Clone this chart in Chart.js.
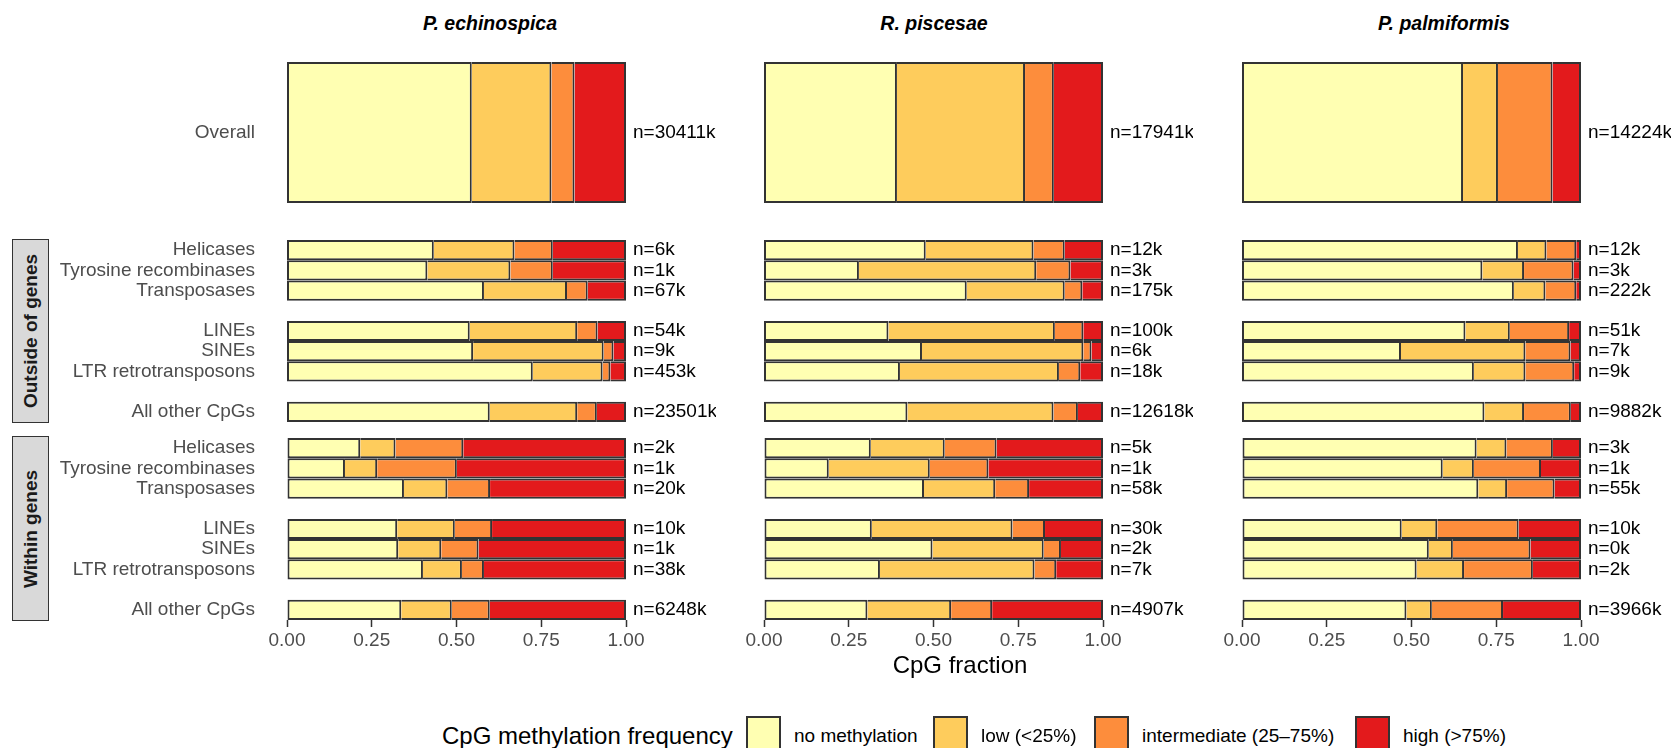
<!DOCTYPE html>
<html>
<head>
<meta charset="utf-8">
<script src="https://cdn.jsdelivr.net/npm/chart.js@4.4.1/dist/chart.umd.min.js"></script>
<style>
  html, body { margin: 0; padding: 0; background: #fff; }
  body { width: 1675px; height: 748px; position: relative; overflow: hidden;
         font-family: "Liberation Sans", Arial, Helvetica, sans-serif; }
  .abs { position: absolute; }
  .box { position: absolute; }
  .box canvas { display: block; }
  .title { font-weight: bold; font-style: italic; font-size: 19.5px; color: #000;
           transform: translate(-50%, -50%); white-space: nowrap; line-height: 1.15; }
  .strip { background: #d9d9d9; border: 1px solid #333; box-sizing: border-box; }
  .strip span { position: absolute; left: 50%; top: 50%; white-space: nowrap;
                transform: translate(-50%, -50%) rotate(-90deg);
                font-weight: bold; font-size: 19px; color: #1a1a1a; }
  .axtitle { font-size: 24px; color: #000; transform: translate(-50%, -50%);
             white-space: nowrap; line-height: 1.15; }
  .legtitle { font-size: 24px; color: #000; transform: translateY(-50%); white-space: nowrap; line-height: 1.15; }
  .legtext { font-size: 19px; color: #000; transform: translateY(-50%); white-space: nowrap; line-height: 1.15; }
  .key { border: 2px solid #333; box-sizing: border-box; }
</style>
</head>
<body>
<script>
// ---- data -------------------------------------------------------------
const species = ['P. echinospica', 'R. piscesae', 'P. palmiformis'];
const regions = ['Helicases', 'Tyrosine recombinases', 'Transposases',
                 'LINEs', 'SINEs', 'LTR retrotransposons', 'All other CpGs'];
const contexts = ['Outside of genes', 'Within genes'];
const classes = ['no methylation', 'low (<25%)', 'intermediate (25\u201375%)', 'high (>75%)'];
const classColors = ['#ffffb2', '#fecc5c', '#fd8d3c', '#e31a1c'];
const tickValues = [0, 0.25, 0.5, 0.75, 1];
const axisTitle = 'CpG fraction';
const legendTitle = 'CpG methylation frequency';

// Row order in every series: Overall, 7 regions outside genes, 7 regions within genes
const echNone  = [0.545, 0.433, 0.414, 0.581, 0.539, 0.549, 0.725, 0.598, 0.216, 0.171, 0.345, 0.325, 0.328, 0.401, 0.337];
const echLow   = [0.235, 0.238, 0.245, 0.245, 0.317, 0.385, 0.206, 0.258, 0.104, 0.095, 0.128, 0.170, 0.127, 0.115, 0.149];
const echInter = [0.068, 0.113, 0.125, 0.061, 0.060, 0.029, 0.023, 0.058, 0.200, 0.235, 0.126, 0.110, 0.110, 0.065, 0.112];
const echHigh  = [0.152, 0.216, 0.216, 0.113, 0.084, 0.037, 0.046, 0.086, 0.480, 0.499, 0.401, 0.395, 0.435, 0.419, 0.402];
const echN     = ['30411k', '6k', '1k', '67k', '54k', '9k', '453k', '23501k', '2k', '1k', '20k', '10k', '1k', '38k', '6248k'];

const rpiNone  = [0.392, 0.477, 0.280, 0.598, 0.367, 0.466, 0.401, 0.423, 0.315, 0.191, 0.472, 0.318, 0.497, 0.342, 0.305];
const rpiLow   = [0.378, 0.318, 0.523, 0.289, 0.491, 0.476, 0.469, 0.431, 0.218, 0.298, 0.210, 0.415, 0.328, 0.456, 0.247];
const rpiInter = [0.085, 0.092, 0.101, 0.052, 0.084, 0.024, 0.063, 0.072, 0.153, 0.173, 0.100, 0.096, 0.051, 0.064, 0.121];
const rpiHigh  = [0.145, 0.113, 0.096, 0.061, 0.058, 0.034, 0.067, 0.074, 0.314, 0.338, 0.218, 0.171, 0.124, 0.138, 0.327];
const rpiN     = ['17941k', '12k', '3k', '175k', '100k', '6k', '18k', '12618k', '5k', '1k', '58k', '30k', '2k', '7k', '4907k'];

const ppaNone  = [0.652, 0.814, 0.709, 0.802, 0.659, 0.469, 0.684, 0.715, 0.692, 0.592, 0.697, 0.471, 0.551, 0.515, 0.485];
const ppaLow   = [0.103, 0.084, 0.123, 0.093, 0.131, 0.367, 0.152, 0.117, 0.088, 0.092, 0.085, 0.105, 0.071, 0.140, 0.075];
const ppaInter = [0.161, 0.088, 0.146, 0.091, 0.175, 0.133, 0.144, 0.138, 0.137, 0.198, 0.140, 0.240, 0.229, 0.203, 0.210];
const ppaHigh  = [0.084, 0.014, 0.022, 0.014, 0.035, 0.031, 0.020, 0.030, 0.083, 0.118, 0.078, 0.184, 0.149, 0.142, 0.230];
const ppaN     = ['14224k', '12k', '3k', '222k', '51k', '7k', '9k', '9882k', '3k', '1k', '55k', '10k', '0k', '2k', '3966k'];

// regions are shown in three groups separated by an empty row
const groupStarts = [0, 3, 6];

// ---- layout -----------------------------------------------------------
const FONT = '"Liberation Sans", Arial, Helvetica, sans-serif';
Chart.defaults.font.family = FONT;
Chart.defaults.animation = false;

const panelLeft = [287, 764, 1242];
const panelWidth = 339;
const titleCenter = [490, 934, 1444];
const rightRoom = 90;           // space for the n= labels
const leftRoom = 40;
const facetBoxes = [
  { top: 62,  height: 141 },    // Overall
  { top: 240, height: 182 },    // Outside of genes
  { top: 438, height: 182 }     // Within genes
];
const xAxisHeight = 40;

const seriesBySpecies = [
  { classes: [echNone, echLow, echInter, echHigh], n: echN },
  { classes: [rpiNone, rpiLow, rpiInter, rpiHigh], n: rpiN },
  { classes: [ppaNone, ppaLow, ppaInter, ppaHigh], n: ppaN }
];

// n= labels written just right of each bar
const nLabelPlugin = {
  id: 'nLabels',
  afterDatasetsDraw(chart, args, opts) {
    const { ctx, chartArea, scales } = chart;
    ctx.save();
    ctx.font = '19px ' + FONT;
    ctx.fillStyle = '#000';
    ctx.textAlign = 'left';
    ctx.textBaseline = 'middle';
    opts.labels.forEach((t, i) => {
      if (t == null) return;
      ctx.fillText('n=' + t, chartArea.right + 7, scales.y.getPixelForValue(i));
    });
    ctx.restore();
  }
};

function rowsFor(facet) {
  // returns category labels and the index into the series arrays (-1 = spacer)
  if (facet === 0) return { labels: ['Overall'], map: [0] };
  const offset = facet === 1 ? 1 : 8;
  const labels = [], map = [];
  regions.forEach((name, k) => {
    if (k > 0 && groupStarts.includes(k)) { labels.push(''); map.push(-1); }
    labels.push(name); map.push(offset + k);
  });
  return { labels, map };
}

function makeChart(sp, facet) {
  const showY = sp === 0;
  const showX = facet === 2;
  const box = facetBoxes[facet];
  const padTop = 2, padBottom = 2;
  const left = showY ? 0 : panelLeft[sp] - leftRoom;
  const width = (panelLeft[sp] + panelWidth + rightRoom) - left;
  const height = padTop + box.height + (showX ? xAxisHeight : 0) + padBottom;

  const div = document.createElement('div');
  div.className = 'box';
  div.style.left = left + 'px';
  div.style.top = (box.top - padTop) + 'px';
  div.style.width = width + 'px';
  div.style.height = height + 'px';
  const canvas = document.createElement('canvas');
  canvas.width = width; canvas.height = height;
  div.appendChild(canvas);
  document.body.appendChild(div);

  const rows = rowsFor(facet);
  const src = seriesBySpecies[sp];
  const datasets = classes.map((name, c) => ({
    label: name,
    data: rows.map.map(j => (j < 0 ? null : src.classes[c][j])),
    backgroundColor: classColors[c],
    borderColor: '#333333',
    borderWidth: 2,
    borderSkipped: c === 0 ? false : 'start',
    inflateAmount: 0,
    categoryPercentage: 1,
    barPercentage: 1,
    stack: 'methylation'
  }));

  new Chart(canvas, {
    type: 'bar',
    data: { labels: rows.labels, datasets },
    plugins: [nLabelPlugin],
    options: {
      indexAxis: 'y',
      responsive: false,
      animation: false,
      layout: { padding: { top: padTop, bottom: padBottom, left: showY ? 0 : leftRoom, right: rightRoom } },
      plugins: {
        legend: { display: false },
        tooltip: { enabled: false },
        nLabels: { labels: rows.map.map(j => (j < 0 ? null : src.n[j])) }
      },
      scales: {
        x: {
          type: 'linear', stacked: true, min: 0, max: 1,
          display: showX,
          afterBuildTicks: s => { s.ticks = tickValues.map(v => ({ value: v })); },
          afterFit: s => { if (showX) s.height = xAxisHeight; },
          grid: { drawOnChartArea: false, drawTicks: true, tickLength: 7,
                  tickColor: '#333333', tickWidth: 1.5 },
          border: { display: false },
          ticks: { autoSkip: false, maxRotation: 0, padding: 2, color: '#4d4d4d',
                   font: { size: 19 }, callback: v => Number(v).toFixed(2) }
        },
        y: {
          type: 'category', stacked: true, display: showY,
          afterFit: s => {
            if (!showY) return;
            s.width = panelLeft[0];
            s.paddingTop = 0;
            s.paddingBottom = 0;
          },
          grid: { display: false, drawTicks: false },
          border: { display: false },
          ticks: { autoSkip: false, padding: 32, color: '#4d4d4d', font: { size: 19 } }
        }
      }
    }
  });
}

function addText(cls, text, x, y) {
  const d = document.createElement('div');
  d.className = 'abs ' + cls;
  d.style.left = x + 'px';
  d.style.top = y + 'px';
  d.textContent = text;
  document.body.appendChild(d);
  return d;
}

for (let sp = 0; sp < 3; sp++) {
  for (let f = 0; f < 3; f++) makeChart(sp, f);
  addText('title', species[sp], titleCenter[sp], 23);
}

// facet strips on the left
[[239, 184], [436, 185]].forEach(([top, h], i) => {
  const s = document.createElement('div');
  s.className = 'abs strip';
  s.style.left = '12px'; s.style.top = top + 'px';
  s.style.width = '37px'; s.style.height = h + 'px';
  const t = document.createElement('span');
  t.textContent = contexts[i];
  s.appendChild(t);
  document.body.appendChild(s);
});

addText('axtitle', axisTitle, 960, 665);

// legend
addText('legtitle', legendTitle, 442, 736);
const keyX = [746, 933, 1094, 1355];
classes.forEach((name, c) => {
  const k = document.createElement('div');
  k.className = 'abs key';
  k.style.left = keyX[c] + 'px'; k.style.top = '716px';
  k.style.width = '35px'; k.style.height = '36px';
  k.style.background = classColors[c];
  document.body.appendChild(k);
  addText('legtext', name, keyX[c] + 48, 736);
});
</script>
</body>
</html>
